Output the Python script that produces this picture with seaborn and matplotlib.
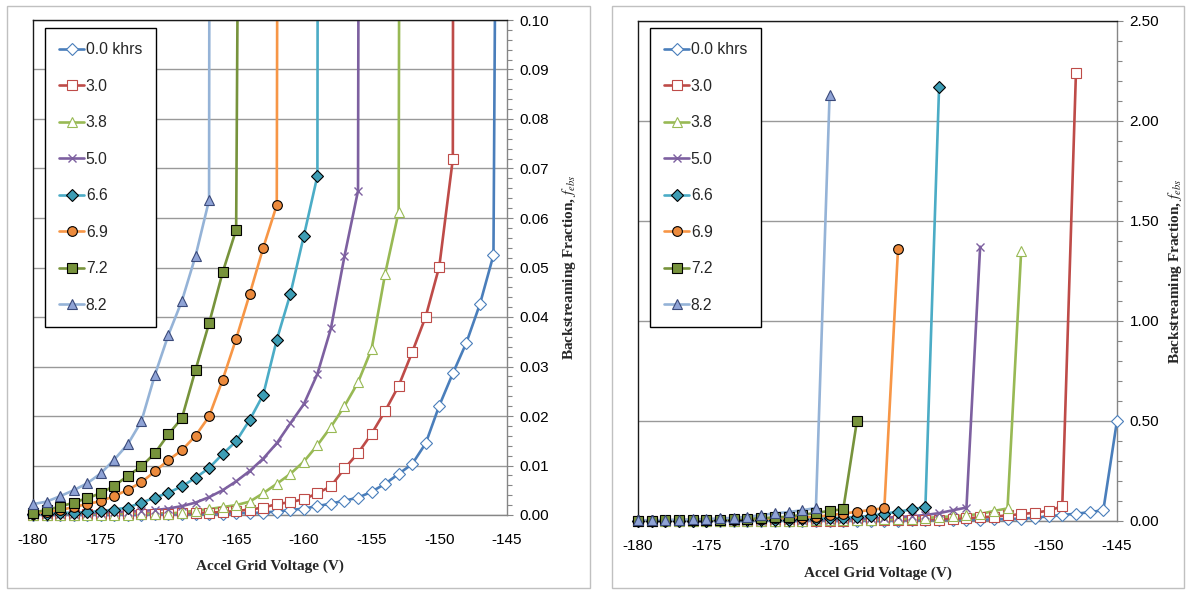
import numpy as np
import pandas as pd
import matplotlib
matplotlib.use("Agg")
import matplotlib.pyplot as plt
import seaborn as sns
from matplotlib.ticker import MultipleLocator, FormatStrFormatter
from matplotlib.lines import Line2D
from matplotlib.patches import Rectangle

sns.set_theme(style="white")
plt.rcParams["font.family"] = ["Liberation Sans", "DejaVu Sans"]
plt.rcParams["mathtext.fontset"] = "stix"

# ---------------- data ----------------
V_START = -180  # every series starts at -180 V, 1 V steps
series_labels = ["0.0 khrs", "3.0", "3.8", "5.0", "6.6", "6.9", "7.2", "8.2"]

f_00 = [0.0001, 0.0001, 0.0001, 0.0001, 0.0001, 0.0001, 0.0001, 0.0001, 0.0001, 0.0002,
        0.0002, 0.0002, 0.0002, 0.0003, 0.0003, 0.0004, 0.0004, 0.0005, 0.0007, 0.0010,
        0.0013, 0.0018, 0.0023, 0.0029, 0.0035, 0.0047, 0.0063, 0.0083, 0.0103, 0.0145,
        0.0221, 0.0286, 0.0348, 0.0426, 0.0525, 0.50]
f_30 = [0.0001, 0.0001, 0.0001, 0.0001, 0.0002, 0.0002, 0.0002, 0.0002, 0.0003, 0.0003,
        0.0003, 0.0004, 0.0004, 0.0005, 0.0006, 0.0008, 0.0011, 0.0015, 0.0022, 0.0026,
        0.0032, 0.0044, 0.0058, 0.0094, 0.0125, 0.0164, 0.0210, 0.0261, 0.0329, 0.0401,
        0.0502, 0.0719, 2.24]
f_38 = [0.0000, 0.0000, 0.0000, 0.0000, 0.0001, 0.0001, 0.0001, 0.0001, 0.0002, 0.0002,
        0.0003, 0.0005, 0.0009, 0.0012, 0.0016, 0.0020, 0.0027, 0.0044, 0.0063, 0.0083,
        0.0108, 0.0141, 0.0178, 0.0220, 0.0268, 0.0335, 0.0487, 0.0613, 1.35]
f_50 = [0.0002, 0.0002, 0.0003, 0.0003, 0.0004, 0.0005, 0.0006, 0.0007, 0.0008, 0.0010,
        0.0013, 0.0018, 0.0025, 0.0036, 0.0050, 0.0068, 0.0089, 0.0114, 0.0145, 0.0185,
        0.0224, 0.0285, 0.0377, 0.0523, 0.0655, 1.37]
f_66 = [0.0003, 0.0003, 0.0004, 0.0005, 0.0006, 0.0008, 0.0011, 0.0015, 0.0025, 0.0035,
        0.0045, 0.0058, 0.0075, 0.0095, 0.0123, 0.0149, 0.0192, 0.0243, 0.0354, 0.0446,
        0.0564, 0.0685, 2.17]
f_69 = [0.0003, 0.0006, 0.0010, 0.0016, 0.0022, 0.0028, 0.0038, 0.0051, 0.0066, 0.0088,
        0.0111, 0.0131, 0.0160, 0.0199, 0.0273, 0.0356, 0.0446, 0.0540, 0.0626, 1.36]
f_72 = [0.0005, 0.0010, 0.0017, 0.0025, 0.0034, 0.0044, 0.0059, 0.0079, 0.0098, 0.0125,
        0.0163, 0.0196, 0.0293, 0.0387, 0.0490, 0.0576, 0.50]
f_82 = [0.0022, 0.0027, 0.0038, 0.0050, 0.0064, 0.0084, 0.0112, 0.0143, 0.0189, 0.0283,
        0.0364, 0.0433, 0.0523, 0.0636, 2.13]

series_values = [f_00, f_30, f_38, f_50, f_66, f_69, f_72, f_82]

x_ticks = [-180, -175, -170, -165, -160, -155, -150, -145]

frames = []
for lab, vals in zip(series_labels, series_values):
    frames.append(pd.DataFrame({"series": lab,
                                "V": np.arange(V_START, V_START + len(vals)),
                                "f": vals}))
df = pd.concat(frames, ignore_index=True)

# ---------------- styles ----------------
styles = {
    "0.0 khrs": dict(color="#4a7ebb", marker="D", mfc="white", mec="#4a7ebb", ms=6.0),
    "3.0": dict(color="#be4b48", marker="s", mfc="white", mec="#be4b48", ms=6.5),
    "3.8": dict(color="#98b954", marker="^", mfc="white", mec="#98b954", ms=7.5),
    "5.0": dict(color="#7d60a0", marker="x", mfc="#7d60a0", mec="#7d60a0", ms=6.0),
    "6.6": dict(color="#4bacc6", marker="D", mfc="#3d9db5", mec="black", ms=6.0),
    "6.9": dict(color="#f79646", marker="o", mfc="#ec8a3c", mec="black", ms=7.0),
    "7.2": dict(color="#77933c", marker="s", mfc="#77933c", mec="black", ms=6.5),
    "8.2": dict(color="#95b3d7", marker="^", mfc="#8fa3d6", mec="#3b4a7a", ms=7.5),
}

W, H = 1189, 590
fig = plt.figure(figsize=(W / 100, H / 100), dpi=100)
fig.patch.set_facecolor("white")

# panel borders
for (x0, y0, x1, y1) in [(7, 6, 590, 588), (612, 6, 1184, 588)]:
    fig.patches.append(Rectangle((x0 / W, 1 - y1 / H), (x1 - x0) / W, (y1 - y0) / H,
                                 transform=fig.transFigure, fill=False,
                                 edgecolor="#c0c0c0", lw=1.0, zorder=0))

axL = fig.add_axes([33 / W, 1 - 515 / H, (507 - 33) / W, (515 - 20) / H])
axR = fig.add_axes([638 / W, 1 - 520.7 / H, (1117 - 638) / W, (520.7 - 20.7) / H])

ylabel = "Backstreaming Fraction, " + r"$f_{ebs}$"


def draw(ax, ymax, major, minor, legend_anchor, xlabelpad, ylabelpad):
    for lab in series_labels:
        st = styles[lab]
        sub = df[df["series"] == lab]
        sns.lineplot(data=sub, x="V", y="f", ax=ax, color=st["color"], lw=1.9,
                     estimator=None, errorbar=None, sort=False, legend=False, zorder=2)
        inr = sub[sub["f"] <= ymax]
        sns.lineplot(data=inr, x="V", y="f", ax=ax, color=st["color"], lw=0,
                     linestyle="", marker=st["marker"], markersize=st["ms"],
                     markerfacecolor=st["mfc"], mec=st["mec"],
                     mew=1.0 if st["marker"] == "x" else 0.8,
                     estimator=None, errorbar=None, sort=False, legend=False,
                     clip_on=False, zorder=3)
    ax.set_xlim(-180, -145)
    ax.set_ylim(0, ymax)
    ax.set_xticks(x_ticks)
    ax.xaxis.set_minor_locator(MultipleLocator(1))
    ax.yaxis.set_major_locator(MultipleLocator(major))
    ax.yaxis.set_minor_locator(MultipleLocator(minor))
    ax.yaxis.set_major_formatter(FormatStrFormatter("%.2f"))
    ax.xaxis.set_major_formatter(FormatStrFormatter("%d"))
    ax.yaxis.tick_right()
    ax.yaxis.set_label_position("right")
    ax.grid(False)
    ax.yaxis.grid(True, which="major", color="#999999", lw=1.0, zorder=0)
    ax.set_axisbelow(True)
    for side in ["top", "left"]:
        ax.spines[side].set_color("#1a1a1a")
        ax.spines[side].set_linewidth(1.0)
    for side in ["bottom", "right"]:
        ax.spines[side].set_color("#868686")
        ax.spines[side].set_linewidth(1.0)
    ax.tick_params(axis="both", which="both", direction="out", color="#868686",
                   width=0.8, labelsize=11, labelcolor="black")
    ax.tick_params(axis="both", which="major", length=4)
    ax.tick_params(axis="both", which="minor", length=3.5)
    ax.tick_params(axis="x", which="major", pad=9)
    ax.tick_params(axis="y", which="major", pad=5)
    ax.tick_params(axis="y", which="both", left=False, right=True)
    ax.set_xlabel("Accel Grid Voltage (V)", family="Liberation Serif",
                  fontweight="bold", fontsize=11, labelpad=xlabelpad)
    ax.set_ylabel(ylabel, family="Liberation Serif", fontweight="bold",
                  fontsize=11, labelpad=ylabelpad, rotation=90)

    handles = []
    for lab in series_labels:
        st = styles[lab]
        handles.append(Line2D([], [], color=st["color"], lw=1.9, marker=st["marker"],
                              markersize=st["ms"], markerfacecolor=st["mfc"],
                              markeredgecolor=st["mec"],
                              markeredgewidth=1.0 if st["marker"] == "x" else 0.8))
    leg = ax.legend(handles, series_labels, loc="upper left",
                    bbox_to_anchor=legend_anchor, bbox_transform=fig.transFigure,
                    borderaxespad=0, frameon=True, fancybox=False, shadow=False,
                    fontsize=11.3, labelspacing=1.37, handlelength=1.6,
                    handletextpad=0.1, borderpad=0.9, framealpha=1)
    leg.get_frame().set_edgecolor("black")
    leg.get_frame().set_linewidth(1.0)
    leg.set_zorder(10)


draw(axL, 0.10, 0.01, 0.002, (45 / W, 1 - 28 / H), 9, 8)
draw(axR, 2.50, 0.50, 0.10, (650 / W, 1 - 28 / H), 10, 5)

fig.savefig("out.png", dpi=100, facecolor="white")
